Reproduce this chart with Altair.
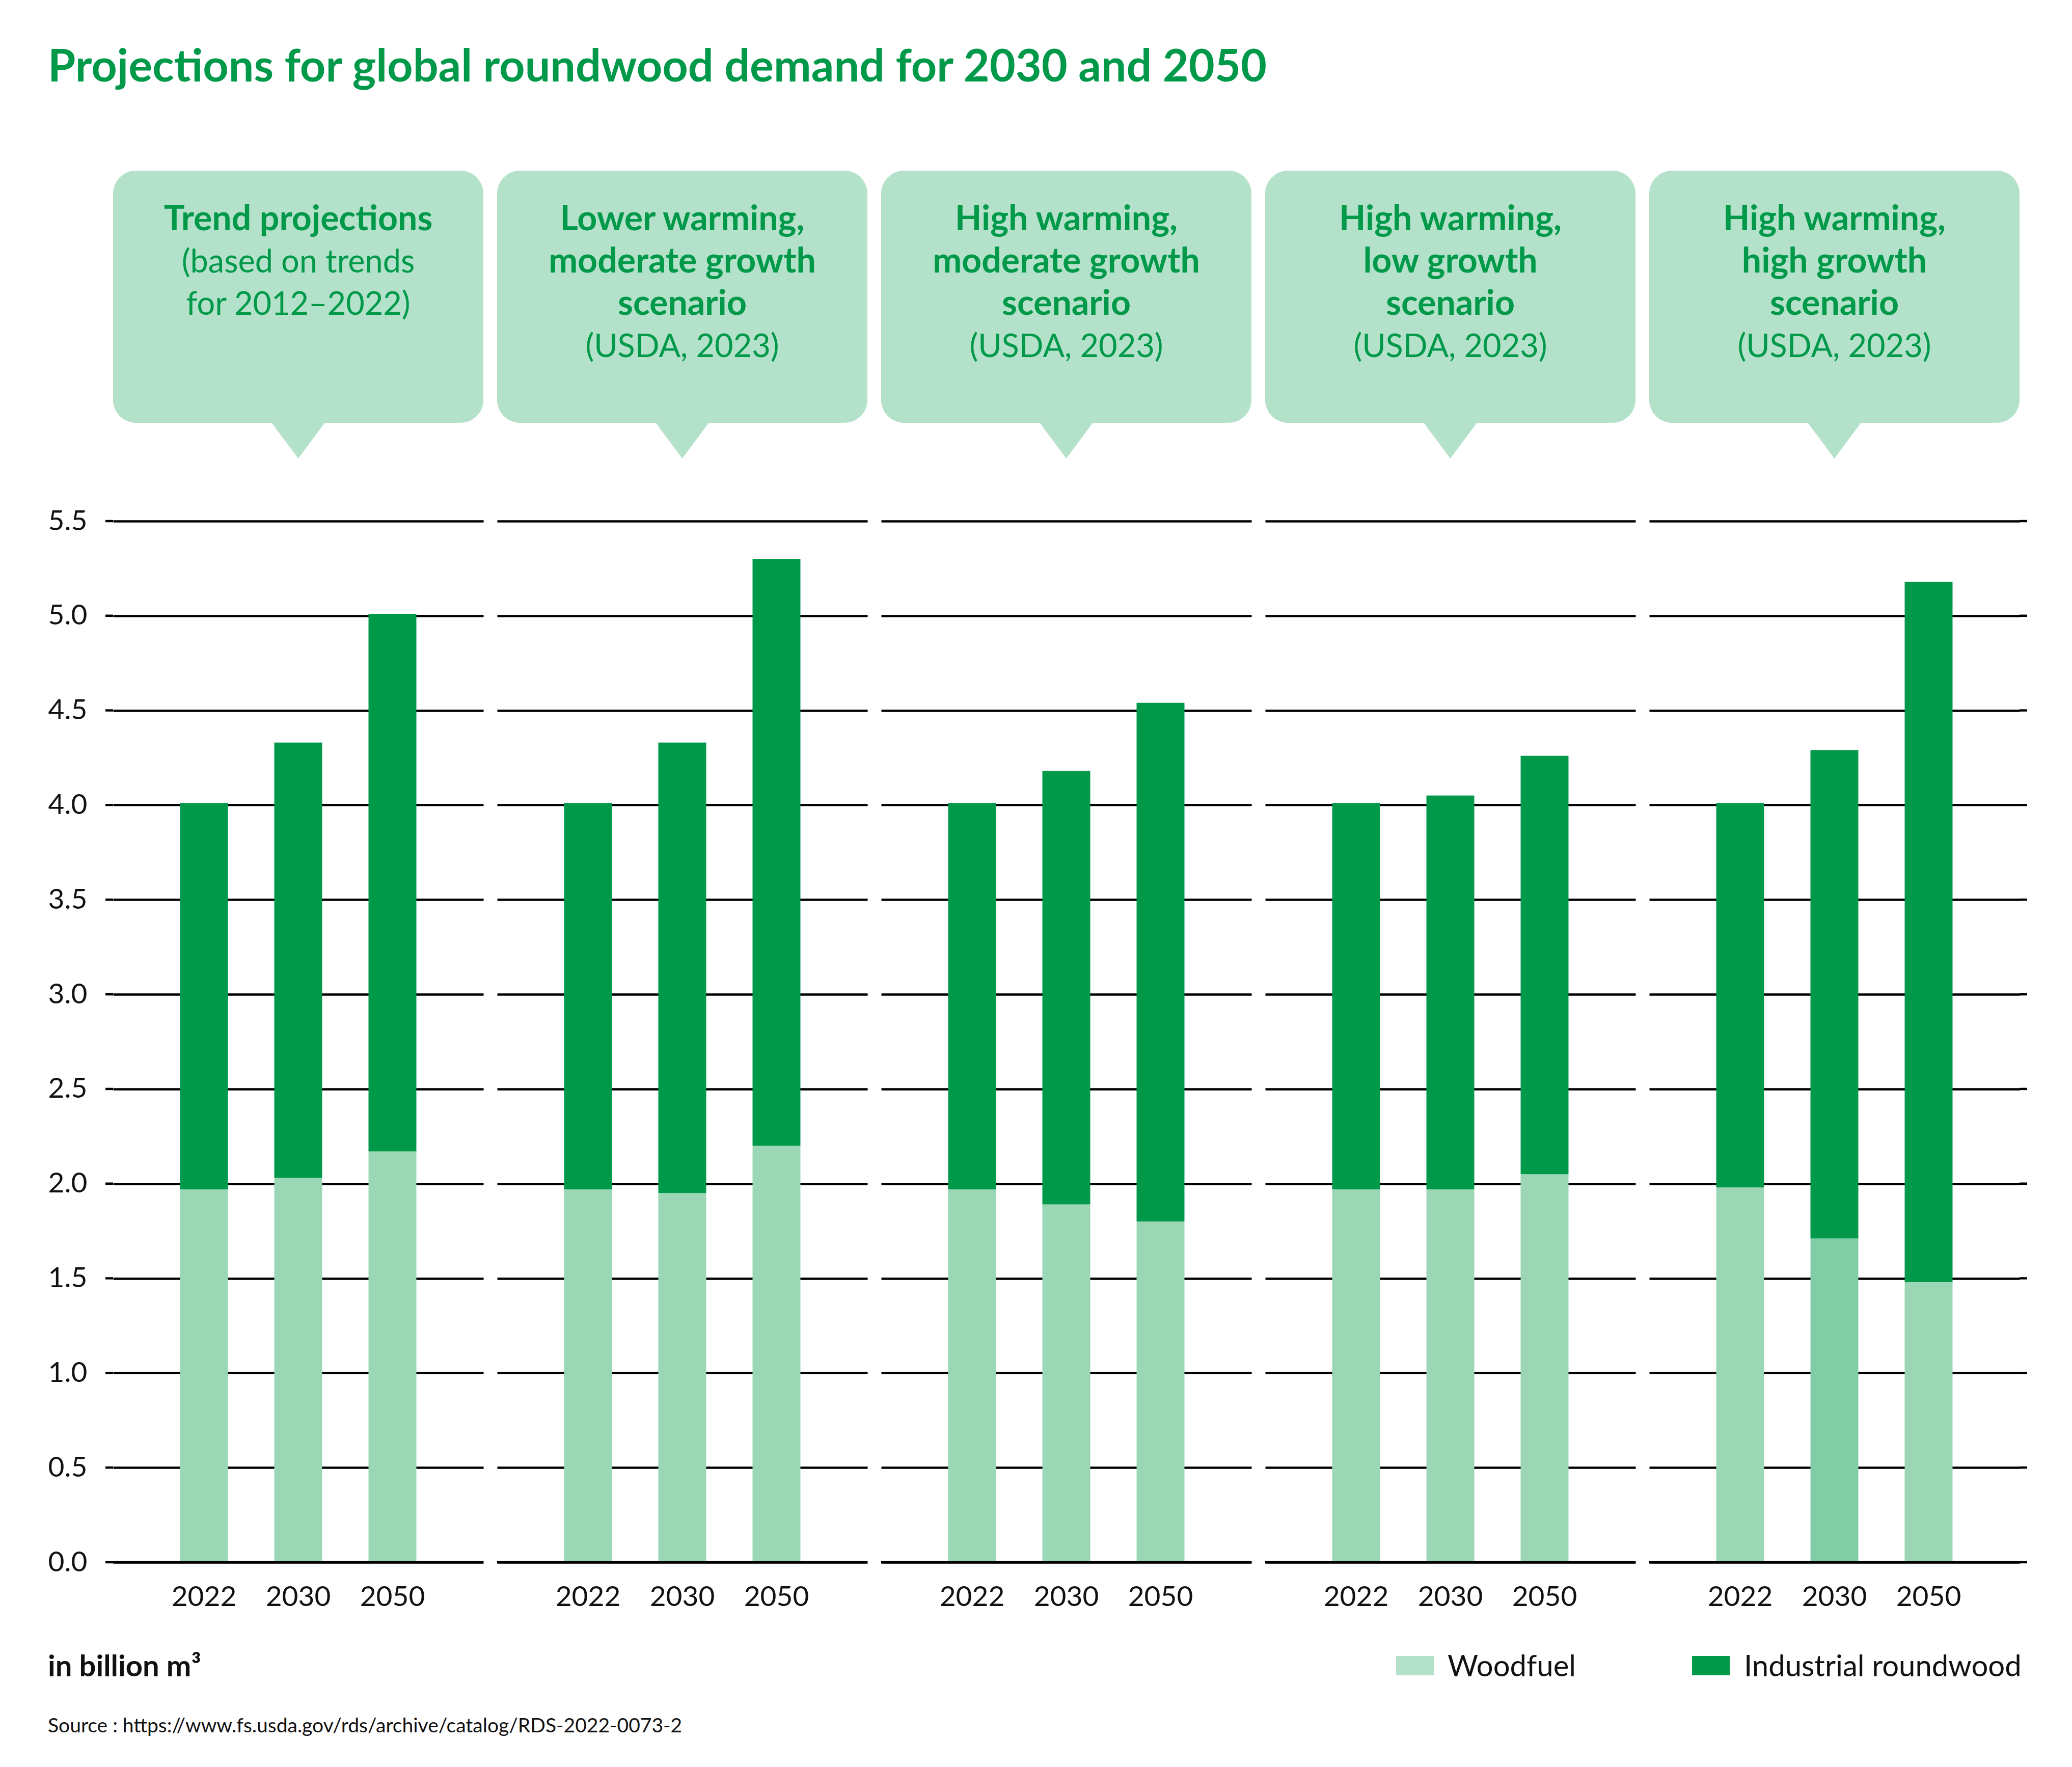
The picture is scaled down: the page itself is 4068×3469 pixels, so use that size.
import altair as alt
import pandas as pd

# ---------------- data ----------------
title_text = "Projections for global roundwood demand for 2030 and 2050"
scenarios = [
    "Trend projections",
    "Lower warming, moderate growth",
    "High warming, moderate growth",
    "High warming, low growth",
    "High warming, high growth",
]
years = ["2022", "2030", "2050"]
# billion m3, bottom segment of each stack
woodfuel = [
    [1.97, 2.03, 2.17],
    [1.97, 1.95, 2.20],
    [1.97, 1.89, 1.80],
    [1.97, 1.97, 2.05],
    [1.98, 1.71, 1.48],
]
# billion m3, top segment of each stack
industrial = [
    [2.04, 2.30, 2.84],
    [2.04, 2.38, 3.10],
    [2.04, 2.29, 2.74],
    [2.04, 2.08, 2.21],
    [2.03, 2.58, 3.70],
]
# the source draws this one woodfuel segment in a slightly darker shade
darker_segments = [("High warming, high growth", "2030")]

bold_lines = [
    ["Trend projections"],
    ["Lower warming,", "moderate growth", "scenario"],
    ["High warming,", "moderate growth", "scenario"],
    ["High warming,", "low growth", "scenario"],
    ["High warming,", "high growth", "scenario"],
]
regular_lines = [
    ["(based on trends", "for 2012\u20132022)"],
    ["(USDA, 2023)"],
    ["(USDA, 2023)"],
    ["(USDA, 2023)"],
    ["(USDA, 2023)"],
]
y_ticks = [0.0, 0.5, 1.0, 1.5, 2.0, 2.5, 3.0, 3.5, 4.0, 4.5, 5.0, 5.5]
legend_labels = ["Woodfuel", "Industrial roundwood"]
unit_text = "in billion m\u00b3"
source_text = "Source : https://www.fs.usda.gov/rds/archive/catalog/RDS-2022-0073-2"

# ---------------- styling ----------------
GREEN = "#00994A"
WOOD = "#9BD7B5"
WOOD_DARK = "#80CEA5"
BUBBLE = "#B3E1C9"
INK = "#111111"
FONT = "Lato"
W, H = 727, 2044
LINE_H = 83
GRID_W = 4.5

color_scale = alt.Scale(
    domain=["Woodfuel", "Woodfuel (darker)", "Industrial roundwood"],
    range=[WOOD, WOOD_DARK, GREEN],
)


def one_row(name):
    return pd.DataFrame({"k": [name]})


def text_mark(df, text, x, y, size, weight="normal", color=INK, align="left", line_height=None):
    kw = dict(text=text, align=align, baseline="alphabetic", font=FONT,
              fontSize=size, fontWeight=weight, color=color)
    if line_height is not None:
        kw["lineHeight"] = line_height
    return alt.Chart(df).mark_text(**kw).encode(x=alt.value(x), y=alt.value(y))


tick_df = pd.DataFrame({"v": y_ticks})

panels = []
for i, scen in enumerate(scenarios):
    rows = []
    for j, yr in enumerate(years):
        shade = "Woodfuel (darker)" if (scen, yr) in darker_segments else "Woodfuel"
        rows.append(dict(year=yr, kind="Woodfuel", shade=shade, value=woodfuel[i][j], stack_order=0))
        rows.append(dict(year=yr, kind="Industrial roundwood", shade="Industrial roundwood",
                         value=industrial[i][j], stack_order=1))
    df = pd.DataFrame(rows)
    one = one_row(scen)

    y_axis = alt.Axis(values=y_ticks, format=".1f", grid=True, labels=(i == 0), domain=False,
                      ticks=False, tickSize=0, labelAlign="left", labelPadding=128,
                      labelBaseline="middle", title=None)
    bars = alt.Chart(df).mark_bar().encode(
        x=alt.X("year:N", sort=years,
                scale=alt.Scale(paddingInner=0.492, paddingOuter=0.711),
                axis=alt.Axis(title=None, domain=False, ticks=False, labelPadding=42,
                              labelAngle=0)),
        y=alt.Y("value:Q", stack="zero",
                scale=alt.Scale(domain=[0, 5.5], nice=False, zero=True), axis=y_axis),
        color=alt.Color("shade:N", scale=color_scale, legend=None),
        order=alt.Order("stack_order:Q", sort="ascending"),
    )
    zero_line = alt.Chart(one).mark_rule(color="#000000", strokeWidth=GRID_W).encode(y=alt.datum(0))

    bubble = alt.Chart(one).mark_rect(color=BUBBLE, cornerRadius=45).encode(
        x=alt.value(0), x2=alt.value(W), y=alt.value(-688), y2=alt.value(-193))
    pointer = alt.Chart(one).mark_point(
        shape="M-1,0L1,0L0,1.34Z", size=11236, filled=True, opacity=1,
        color=BUBBLE, strokeWidth=0).encode(x=alt.value(W / 2), y=alt.value(-194))

    nb = len(bold_lines[i])
    bold = text_mark(one, bold_lines[i], W / 2, -571, 68, "bold", GREEN, "center", LINE_H)
    regular = text_mark(one, regular_lines[i], W / 2, -571 + LINE_H * nb, 63, "normal",
                        GREEN, "center", LINE_H)

    layers = [bubble, pointer, bold, regular, bars, zero_line]

    if i == 0:
        # grid lines of the outer panels run a little beyond the plot
        layers.append(alt.Chart(tick_df).mark_rule(color="#000000", strokeWidth=GRID_W).encode(
            y="v:Q", x=alt.value(-15), x2=alt.value(0)))
        layers.append(text_mark(one, title_text, -128, -863, 88, "bold", GREEN))
        layers.append(text_mark(one, unit_text, -128, 2268, 58, "bold", INK))
        layers.append(text_mark(one, source_text, -128, 2378, 39, "normal", INK))
    if i == len(scenarios) - 1:
        layers.append(alt.Chart(tick_df).mark_rule(color="#000000", strokeWidth=GRID_W).encode(
            y="v:Q", x=alt.value(W), x2=alt.value(W + 15)))
        sw_colors = [BUBBLE, GREEN]
        sw_x = [-497, 84]
        tx_x = [-396, 186]
        for lab, c, sx, tx in zip(legend_labels, sw_colors, sw_x, tx_x):
            layers.append(alt.Chart(one).mark_rect(color=c).encode(
                x=alt.value(sx), x2=alt.value(sx + 74), y=alt.value(2228), y2=alt.value(2266)))
            layers.append(text_mark(one, lab, tx, 2268, 58, "normal", INK))

    panels.append(alt.layer(*layers).properties(width=W, height=H))

chart = alt.hconcat(*panels, spacing=27, bounds="flush").properties(
    padding={"left": 86, "top": 82, "right": 20, "bottom": 20}
).configure_view(strokeWidth=0).configure_axis(
    labelFont=FONT, labelFontSize=55, labelColor=INK, gridColor="#000000", gridWidth=GRID_W
)

chart.save("out.html", embed_options={"renderer": "svg", "actions": False})
